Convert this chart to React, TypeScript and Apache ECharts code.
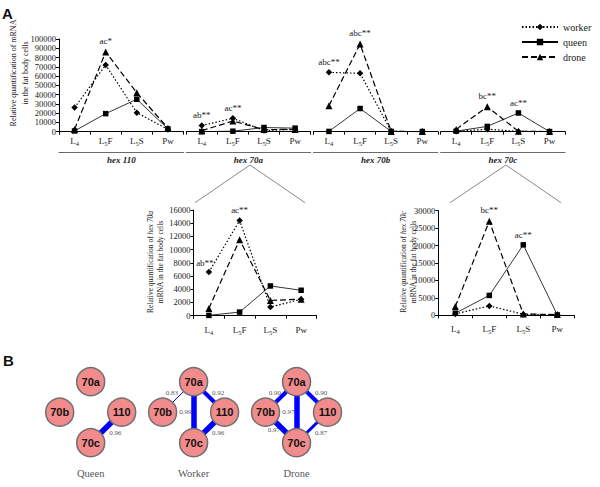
import React, { useEffect, useRef } from 'react';
import * as echarts from 'echarts';

// ---------- DATA ----------
const stages = ['L4', 'L5F', 'L5S', 'Pw'];
const genesTop = ['hex 110', 'hex 70a', 'hex 70b', 'hex 70c'];
const groups = ['worker', 'queen', 'drone'];

const workerHex110 = [26000, 72000, 20500, 2500];
const queenHex110 = [800, 19500, 35000, 3000];
const droneHex110 = [2500, 86000, 42000, 3800];

const workerHex70a = [6600, 14400, 1300, 2500];
const queenHex70a = [50, 550, 4500, 3850];
const droneHex70a = [1100, 11500, 2300, 2500];

const workerHex70b = [64000, 63000, 300, 150];
const queenHex70b = [300, 25000, 300, 150];
const droneHex70b = [28000, 94500, 300, 150];

const workerHex70c = [400, 2700, 300, 100];
const queenHex70c = [600, 5700, 20200, 100];
const droneHex70c = [2500, 27000, 400, 200];

// significance letters: [gene index, group, stage index, text]
const annotations: [number, string, number, string][] = [
  [0, 'drone', 1, 'ac*'],
  [1, 'worker', 0, 'ab**'],
  [1, 'worker', 1, 'ac**'],
  [2, 'worker', 0, 'abc**'],
  [2, 'drone', 1, 'abc**'],
  [3, 'drone', 1, 'bc**'],
  [3, 'queen', 2, 'ac**'],
];

// correlation network
const netGroups = ['Queen', 'Worker', 'Drone'];
const netGenes = ['70a', '70b', '110', '70c'];
const netEdges: [string, string, string, number][] = [
  ['Queen', '110', '70c', 0.96],
  ['Worker', '70a', '70b', 0.83],
  ['Worker', '70a', '70c', 0.99],
  ['Worker', '70a', '110', 0.92],
  ['Worker', '110', '70c', 0.96],
  ['Drone', '70a', '70b', 0.9],
  ['Drone', '70a', '70c', 0.97],
  ['Drone', '70b', '70c', 0.97],
  ['Drone', '70a', '110', 0.9],
  ['Drone', '110', '70c', 0.87],
];

// ---------- BUILD ----------
const SERIF = 'Liberation Serif, Times New Roman, serif';
const SANS = 'Liberation Sans, Arial, sans-serif';
const INK = '#1a1a1a';

const panelData: Record<string, number[]>[] = [
  { worker: workerHex110, queen: queenHex110, drone: droneHex110 },
  { worker: workerHex70a, queen: queenHex70a, drone: droneHex70a },
  { worker: workerHex70b, queen: queenHex70b, drone: droneHex70b },
  { worker: workerHex70c, queen: queenHex70c, drone: droneHex70c },
];

const groupStyle: Record<string, any> = {
  worker: { symbol: 'diamond', symbolSize: 6.5, lineStyle: { type: [1.5, 2], width: 1.2 } },
  queen: { symbol: 'rect', symbolSize: 5.5, lineStyle: { type: 'solid', width: 0.8 } },
  drone: { symbol: 'triangle', symbolSize: 7, lineStyle: { type: [6, 3], width: 1.2 } },
};

function stageLabel(s: string) {
  if (s[0] === 'L') {
    const rest = s.slice(2);
    return `{m|L}{s|${s[1]}}` + (rest ? `{m|${rest}}` : '');
  }
  return `{m|${s}}`;
}

const stageRich = {
  m: { fontSize: 9, fontFamily: SERIF, color: INK, lineHeight: 12 },
  s: { fontSize: 6.5, fontFamily: SERIF, color: INK, verticalAlign: 'bottom', lineHeight: 8 },
};

function lineSeries(group: string, values: number[], axisIdx: number, yIdx: number, gene: number, lower: boolean) {
  const st = groupStyle[group];
  return {
    type: 'line',
    name: group,
    xAxisIndex: axisIdx,
    yAxisIndex: yIdx,
    showAllSymbol: true,
    symbol: st.symbol,
    symbolSize: st.symbolSize,
    itemStyle: { color: '#000' },
    lineStyle: { color: '#000', ...st.lineStyle },
    emphasis: { disabled: true },
    data: values.map((v, k) => {
      const a = annotations.find((x) => x[0] === gene && x[1] === group && x[2] === k);
      if (!a) return v;
      const leftShift = lower && k === 0;
      return {
        value: v,
        label: {
          show: true,
          formatter: a[3],
          position: 'top',
          distance: 3,
          offset: leftShift ? [-4, 2] : [0, 0],
          fontSize: 9,
          fontFamily: SERIF,
          color: INK,
        },
      };
    }),
  };
}

const TOP = 39;
const TOP_H = 92.7;
const PANEL_STEP = 127.2;
const PANEL_W = 124.5;
const PANEL_LEFT0 = 59;

const grids: any[] = [];
const xAxes: any[] = [];
const yAxes: any[] = [];
const series: any[] = [];

const valueLabel = { fontSize: 8.5, fontFamily: SERIF, color: INK, margin: 3, formatter: (v: number) => String(v) };
const stageAxisLabel = (margin: number) => ({ interval: 0, margin, formatter: stageLabel, rich: stageRich });

// top row: 4 panels
genesTop.forEach((g, i) => {
  grids.push({ left: PANEL_LEFT0 + PANEL_STEP * i, top: TOP, width: PANEL_W, height: TOP_H });
});
genesTop.forEach((g, i) => {
  xAxes.push({
    type: 'category', gridIndex: i, data: stages,
    axisLine: { lineStyle: { color: '#000', width: 1 } },
    axisTick: { show: true, length: 3, lineStyle: { color: '#000' } },
    axisLabel: stageAxisLabel(3),
  });
});
genesTop.forEach((g, i) => {
  xAxes.push({
    type: 'category', gridIndex: i, data: stages, position: 'bottom', offset: 20.5,
    axisLine: { show: true, lineStyle: { color: '#444', width: 0.8 } },
    axisTick: { show: false }, axisLabel: { show: false }, splitLine: { show: false },
    name: g, nameLocation: 'middle', nameGap: 3,
    nameTextStyle: { fontStyle: 'italic', fontWeight: 'bold', fontSize: 9, fontFamily: SERIF, color: INK, verticalAlign: 'top' },
  });
});
genesTop.forEach((g, i) => {
  yAxes.push({
    type: 'value', gridIndex: i, min: 0, max: 100000, interval: 10000, show: i === 0,
    axisLine: { show: true, lineStyle: { color: '#000' } },
    axisTick: { show: true, length: 3, lineStyle: { color: '#000' } },
    splitLine: { show: false },
    axisLabel: valueLabel,
  });
});
genesTop.forEach((g, i) => {
  groups.forEach((grp) => series.push(lineSeries(grp, panelData[i][grp], i, i, i, false)));
});

// lower row: hex 70a and hex 70c detail
const lowerPanels = [
  { gene: 1, left: 193.5, top: 210, width: 123, height: 105.7, max: 16000, interval: 2000 },
  { gene: 3, left: 438.3, top: 210.7, width: 136, height: 104.6, max: 30000, interval: 5000 },
];
lowerPanels.forEach((p) => {
  const gi = grids.length;
  grids.push({ left: p.left, top: p.top, width: p.width, height: p.height });
  const xi = xAxes.length;
  xAxes.push({
    type: 'category', gridIndex: gi, data: stages,
    axisLine: { lineStyle: { color: '#000', width: 1 } },
    axisTick: { show: true, length: 3, lineStyle: { color: '#000' } },
    axisLabel: stageAxisLabel(8),
  });
  const yi = yAxes.length;
  yAxes.push({
    type: 'value', gridIndex: gi, min: 0, max: p.max, interval: p.interval,
    axisLine: { show: true, lineStyle: { color: '#000' } },
    axisTick: { show: true, length: 3, lineStyle: { color: '#000' } },
    splitLine: { show: false },
    axisLabel: valueLabel,
  });
  groups.forEach((grp) => series.push(lineSeries(grp, panelData[p.gene][grp], xi, yi, p.gene, true)));
});

// network (B)
const nodeLayout: Record<string, number[]> = { '70a': [0, 1], '70b': [-1, 0], '110': [1, 0], '70c': [0, -1] };
const GROUP_SP = 3.32;
const netGrid = grids.length;
grids.push({ left: 28.7, top: 351.2, width: 310, height: 131.15 });
const netX = xAxes.length;
xAxes.push({ type: 'value', gridIndex: netGrid, min: -2, max: 8, show: false });
const netY = yAxes.length;
yAxes.push({ type: 'value', gridIndex: netGrid, min: -2.3, max: 2, show: false });

const nodes = netGroups.flatMap((grp, gi) =>
  netGenes.map((gene) => ({
    name: grp + '-' + gene,
    value: [gi * GROUP_SP + nodeLayout[gene][0], nodeLayout[gene][1]],
    label: { formatter: gene },
  }))
);
const edgeWidth = (r: number) => (r >= 0.95 ? 5.5 : r >= 0.9 ? 4 : r >= 0.85 ? 3 : 1);
const links = netEdges.map(([grp, a, b, r]) => ({
  source: grp + '-' + a, target: grp + '-' + b, value: r,
  lineStyle: { width: edgeWidth(r) },
}));
series.push({
  type: 'graph', layout: 'none', coordinateSystem: 'cartesian2d', xAxisIndex: netX, yAxisIndex: netY,
  symbol: 'circle', symbolSize: 28,
  itemStyle: { color: '#f28b8b', borderColor: '#6f6f6f', borderWidth: 1.5 },
  label: { show: true, position: 'inside', fontSize: 11, fontWeight: 'bold', fontFamily: SANS, color: '#111' },
  lineStyle: { color: '#0000ff', opacity: 1, curveness: 0 },
  emphasis: { disabled: true },
  data: nodes, links, z: 2,
});
series.push({
  type: 'scatter', xAxisIndex: netX, yAxisIndex: netY, symbolSize: 0.1,
  itemStyle: { color: 'transparent' }, silent: true, z: 4,
  data: netEdges.map(([grp, a, b, r]) => {
    const gi = netGroups.indexOf(grp);
    const pa = nodeLayout[a], pb = nodeLayout[b];
    const sx = (pa[0] + pb[0]) / 2, sy = (pa[1] + pb[1]) / 2;
    let align = 'left', offset = [3, -4];
    if (sx === 0) { align = 'right'; offset = [-2, 0]; }
    else if (sx < 0 && sy > 0) { align = 'right'; offset = [0, -4]; }
    else if (sx > 0 && sy > 0) { align = 'left'; offset = [3, -4]; }
    else if (sx > 0 && sy < 0) { align = 'left'; offset = [3, 6]; }
    else { align = 'right'; offset = [-1, 3]; }
    return {
      value: [gi * GROUP_SP + sx, sy],
      label: { show: true, position: 'inside', formatter: r.toFixed(2), align, verticalAlign: 'middle', offset,
        fontSize: 7, fontFamily: SERIF, color: '#222' },
    };
  }),
});
series.push({
  type: 'scatter', xAxisIndex: netX, yAxisIndex: netY, symbolSize: 0.1,
  itemStyle: { color: 'transparent' }, silent: true,
  data: netGroups.map((grp, gi) => ({
    value: [gi * GROUP_SP, -2.0],
    label: { show: true, position: 'inside', formatter: grp, fontSize: 10.5, fontFamily: SERIF, color: INK },
  })),
});

const graphic: any[] = [
  { type: 'text', x: 2, y: 6, style: { text: 'A', fontSize: 15, fontWeight: 'bold', fontFamily: SANS, fill: '#111', align: 'left', verticalAlign: 'top' } },
  { type: 'text', x: 3, y: 353, style: { text: 'B', fontSize: 15, fontWeight: 'bold', fontFamily: SANS, fill: '#111', align: 'left', verticalAlign: 'top' } },
  { type: 'text', x: 19, y: 73, rotation: Math.PI / 2,
    style: { text: 'Relative quantification of mRNA\nin the fat body cells', fontSize: 8, lineHeight: 12,
      fontFamily: SERIF, fill: INK, align: 'center', verticalAlign: 'middle' } },
  { type: 'text', x: 155.5, y: 262, rotation: Math.PI / 2,
    style: { text: 'Relative quantification of {i|hex 70a}\nmRNA in the fat body cells', fontSize: 7.5, lineHeight: 10,
      fontFamily: SERIF, fill: INK, align: 'center', verticalAlign: 'middle',
      rich: { i: { fontStyle: 'italic', fontSize: 7.5, fontFamily: SERIF, fill: INK, lineHeight: 10 } } } },
  { type: 'text', x: 408.3, y: 262, rotation: Math.PI / 2,
    style: { text: 'Relative quantification of {i|hex 70c}\nmRNA in the fat body cells', fontSize: 7.5, lineHeight: 10,
      fontFamily: SERIF, fill: INK, align: 'center', verticalAlign: 'middle',
      rich: { i: { fontStyle: 'italic', fontSize: 7.5, fontFamily: SERIF, fill: INK, lineHeight: 10 } } } },
  { type: 'polyline', shape: { points: [[195, 202.7], [250, 165], [305, 202.7]] }, style: { stroke: '#555', lineWidth: 0.7, fill: null } },
  { type: 'polyline', shape: { points: [[450, 202.7], [506, 165], [561, 202.7]] }, style: { stroke: '#555', lineWidth: 0.7, fill: null } },
];

const option = {
  animation: false,
  backgroundColor: '#fff',
  legend: {
    data: groups, orient: 'vertical', left: 516, top: 17, itemWidth: 36, itemHeight: 8, itemGap: 5,
    selectedMode: false,
    textStyle: { fontSize: 10, fontFamily: SERIF, color: INK },
  },
  grid: grids,
  xAxis: xAxes,
  yAxis: yAxes,
  series,
  graphic,
};

export default function App() {
  const ref = useRef<HTMLDivElement>(null);
  useEffect(() => {
    if (!ref.current) return;
    const chart = echarts.init(ref.current, undefined, { renderer: 'svg' });
    chart.setOption(option as any);
    return () => chart.dispose();
  }, []);
  return <div ref={ref} style={{ position: 'fixed', left: 0, top: 0, width: 600, height: 487 }} />;
}
